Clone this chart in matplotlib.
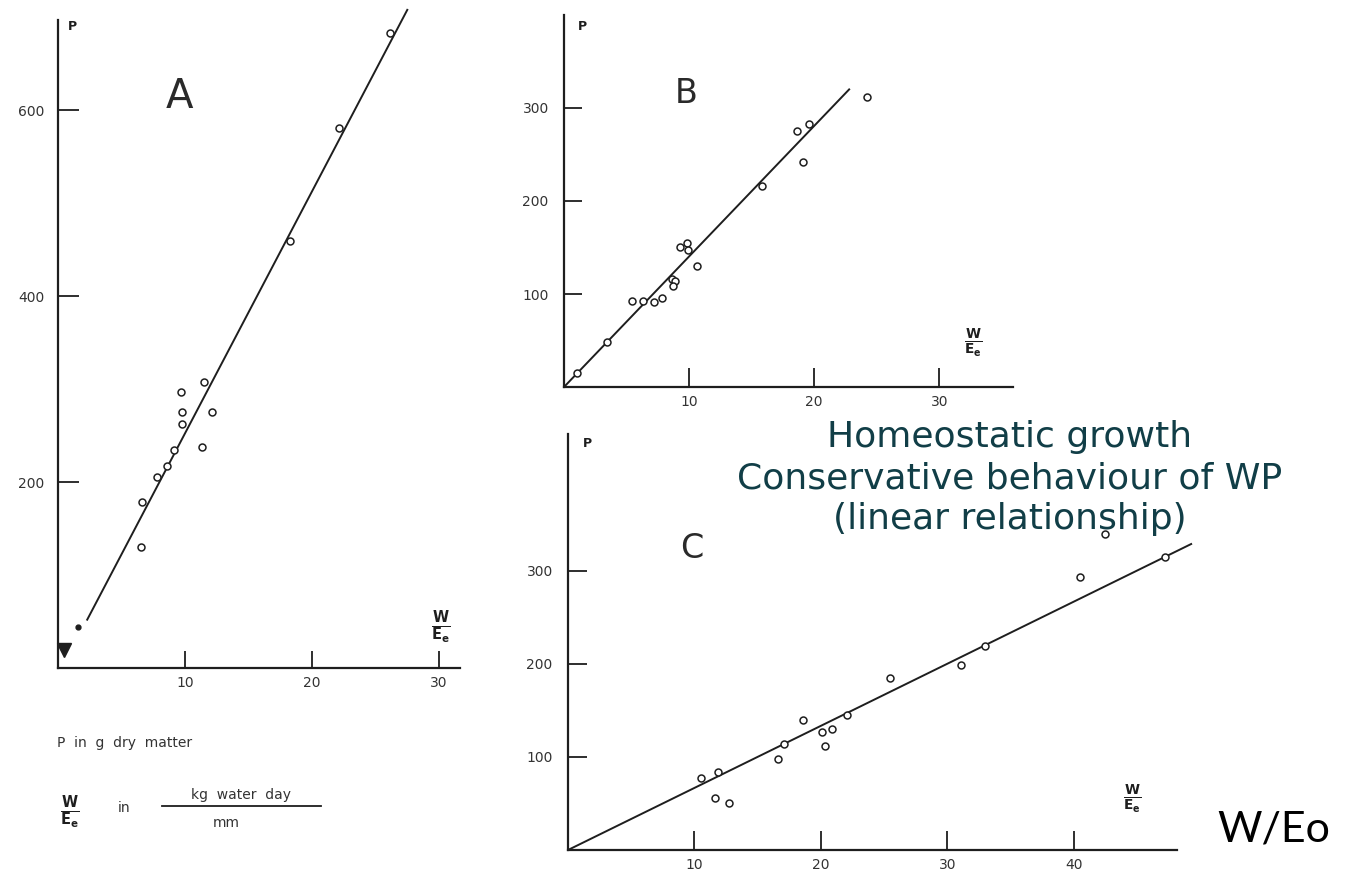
import matplotlib
matplotlib.use('Agg')
import matplotlib.pyplot as plt
from matplotlib.lines import Line2D

W, H = 1360, 872

# ---- panel A ----
a_x = [26.1, 22.1, 18.3, 11.5, 9.7, 9.8, 12.1, 9.8, 11.3, 9.1, 8.6, 7.8, 6.6, 6.5]
a_y = [683, 581, 459, 308, 297, 275, 275, 262, 238, 234, 217, 206, 179, 130]
a_dot_x = [1.6]
a_dot_y = [44]
a_wedge_x = [0.45]
a_wedge_y = [19]
a_fit_x = [2.3, 27.5]
a_fit_y = [52, 708]
a_xticks = [10, 20, 30]
a_yticks = [200, 400, 600]

# ---- panel B ----
b_x = [24.2, 18.6, 19.6, 19.1, 15.8, 9.3, 9.8, 9.9, 10.6, 8.6, 8.9, 8.7,
       7.8, 7.2, 6.3, 5.4, 3.4, 1.0]
b_y = [312, 275, 283, 242, 216, 150, 155, 147, 130, 116, 114, 109,
       96, 91, 92, 93, 48, 15]
b_fit_x = [0, 22.8]
b_fit_y = [0, 320]
b_xticks = [10, 20, 30]
b_yticks = [100, 200, 300]

# ---- panel C ----
c_x = [10.5, 11.9, 11.6, 12.7, 16.6, 17.1, 18.6, 20.1, 20.9, 20.3, 22.1,
       25.5, 31.1, 33.0, 40.5, 42.5, 47.2]
c_y = [77, 84, 56, 50, 98, 114, 140, 127, 130, 112, 145,
       185, 199, 219, 294, 340, 315]
c_fit_x = [0, 49.3]
c_fit_y = [0, 329]
c_xticks = [10, 20, 30, 40]
c_yticks = [100, 200, 300]

ink = '#1e1e1e'
scan_txt = '#333333'

fig = plt.figure(figsize=(W / 100, H / 100), dpi=100)


def panel(x0, x1, y0, y1, xlim, ylim, xspan, yspan, xticks, yticks, ylen, xlen, ypad):
    # x0/x1 and y0/y1 are pixel edges of the axes box (y0 = bottom)
    ax = fig.add_axes([x0 / W, 1 - y0 / H, (x1 - x0) / W, (y0 - y1) / H])
    ax.set_xlim(*xlim)
    ax.set_ylim(*ylim)
    for s in ['top', 'right']:
        ax.spines[s].set_visible(False)
    ax.spines['left'].set_bounds(*yspan)
    ax.spines['bottom'].set_bounds(*xspan)
    for s in ['left', 'bottom']:
        ax.spines[s].set_linewidth(1.6)
        ax.spines[s].set_color(ink)
    ax.set_xticks(xticks)
    ax.set_yticks(yticks)
    ax.tick_params(axis='y', direction='in', length=ylen, width=1.3, color=ink,
                   labelsize=10, labelcolor=scan_txt, pad=ypad)
    ax.tick_params(axis='x', direction='in', length=xlen, width=1.3, color=ink,
                   labelsize=10, labelcolor=scan_txt, pad=6)
    ax.patch.set_alpha(0)
    return ax


def frac(ax, x, y, size=14):
    ax.text(x, y, r'$\mathbf{\frac{W}{E_e}}$', fontsize=size, color=ink,
            ha='center', va='center')


# panel A
axA = panel(58, 460, 668, 8, (0, 31.65), (0, 710), (0, 31.65), (0, 697),
            a_xticks, a_yticks, 15, 12, 10)
axA.plot(a_fit_x, a_fit_y, '-', color=ink, lw=1.4, clip_on=False)
axA.plot(a_x, a_y, 'o', ms=5, mfc='white', mec=ink, mew=1.1)
axA.plot(a_dot_x, a_dot_y, 'o', ms=3.5, color=ink)
axA.plot(a_wedge_x, a_wedge_y, 'v', ms=10, color=ink, clip_on=False)
axA.text(0.8, 690, 'P', fontsize=9, color=ink, fontweight='bold', va='center')
axA.text(9.6, 614, 'A', fontsize=29, color='#2a2a2a', ha='center', va='center')
frac(axA, 30.1, 44, 15)

# panel B
axB = panel(564, 1013, 387, 15, (0, 35.9), (0, 400), (0, 35.9), (0, 400),
            b_xticks, b_yticks, 13, 14, 11)
axB.plot(b_fit_x, b_fit_y, '-', color=ink, lw=1.4)
axB.plot(b_x, b_y, 'o', ms=5, mfc='white', mec=ink, mew=1.1)
axB.text(1.1, 388, 'P', fontsize=9, color=ink, fontweight='bold', va='center')
axB.text(9.8, 316, 'B', fontsize=24, color='#2a2a2a', ha='center', va='center')
frac(axB, 32.7, 48, 14)

# panel C
axC = panel(568, 1200, 850, 430, (0, 50), (0, 451.6), (0, 48.2), (0, 447),
            c_xticks, c_yticks, 14, 14, 11)
axC.plot(c_fit_x, c_fit_y, '-', color=ink, lw=1.4)
axC.plot(c_x, c_y, 'o', ms=5, mfc='white', mec=ink, mew=1.1)
axC.text(1.2, 437, 'P', fontsize=9, color=ink, fontweight='bold', va='center')
axC.text(9.8, 324, 'C', fontsize=24, color='#2a2a2a', ha='center', va='center')
frac(axC, 44.6, 55, 14)

# notes under panel A
def fx(px):
    return px / W


def fy(py):
    return 1 - py / H


fig.text(fx(57), fy(743), 'P  in  g  dry  matter', fontsize=10, color=scan_txt,
         va='center')
fig.text(fx(70), fy(812), r'$\mathbf{\frac{W}{E_e}}$', fontsize=15, color=ink,
         ha='center', va='center')
fig.text(fx(118), fy(808), 'in', fontsize=10, color=scan_txt, va='center')
fig.text(fx(241), fy(795), 'kg  water  day', fontsize=10, color=scan_txt,
         ha='center', va='center')
fig.add_artist(Line2D([fx(162), fx(321)], [fy(806), fy(806)], color=ink, lw=1.3))
fig.text(fx(226), fy(823), 'mm', fontsize=10, color=scan_txt, ha='center', va='center')

# overlay text
fig.text(fx(1010), fy(478),
         'Homeostatic growth\nConservative behaviour of WP\n(linear relationship)',
         fontsize=26, color='#113e47', family='DejaVu Sans', ha='center',
         va='center', linespacing=1.27)
fig.text(fx(1217), fy(829), 'W/Eo', fontsize=31, color='black', family='Lato',
         va='center')

fig.savefig('out.png', dpi=100)
